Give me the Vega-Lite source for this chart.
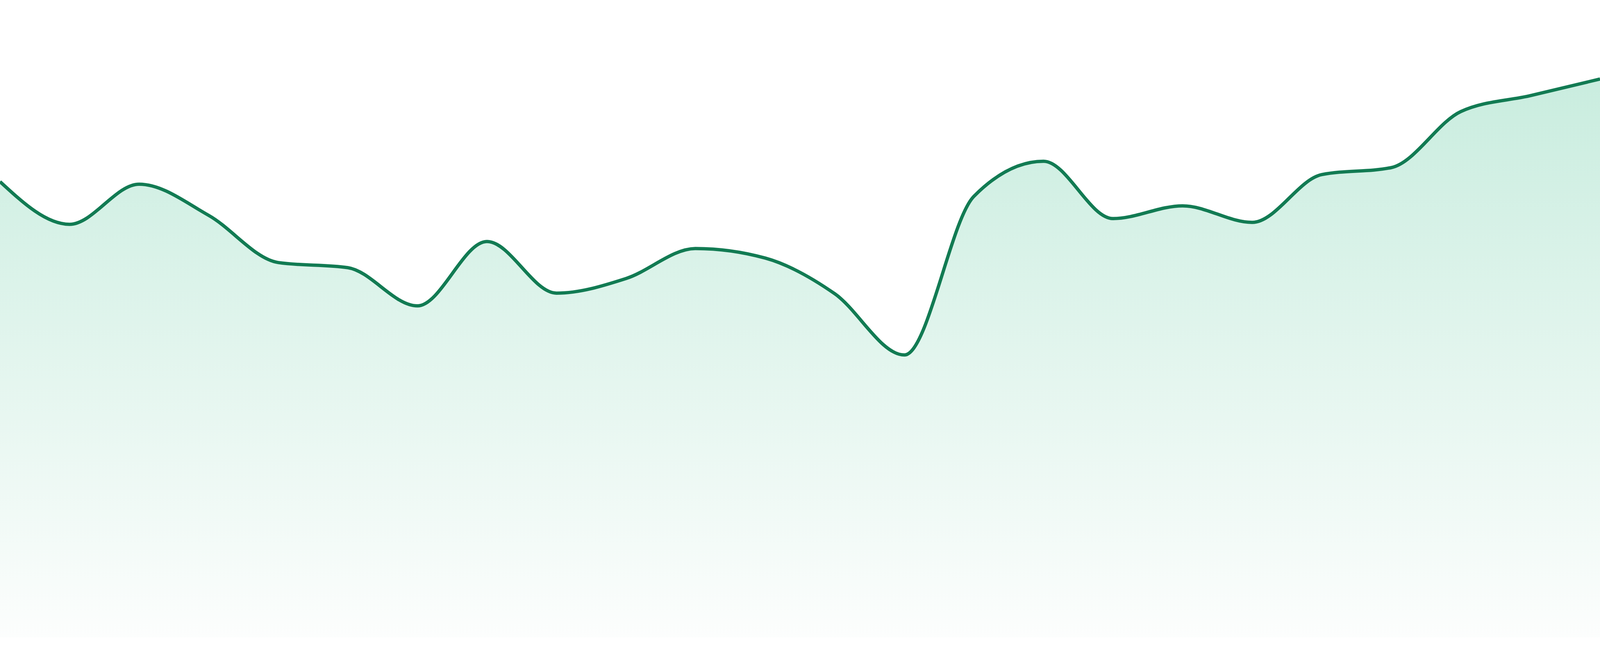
{
  "$schema": "https://vega.github.io/schema/vega-lite/v6.json",
  "width": "container",
  "height": 1680,
  "autosize": {"type": "fit", "contains": "padding"},
  "padding": 0,
  "background": "#ffffff",
  "config": {"view": {"stroke": null}},
  "data": {
    "values": [
      {"i": 0, "v": 71.5},
      {"i": 1, "v": 64.8},
      {"i": 2, "v": 71.1},
      {"i": 3, "v": 66.2},
      {"i": 4, "v": 58.8},
      {"i": 5, "v": 58.0},
      {"i": 6, "v": 52.0},
      {"i": 7, "v": 62.1},
      {"i": 8, "v": 54.0},
      {"i": 9, "v": 56.3},
      {"i": 10, "v": 61.0},
      {"i": 11, "v": 59.5},
      {"i": 12, "v": 53.9},
      {"i": 13, "v": 44.3},
      {"i": 14, "v": 69.2},
      {"i": 15, "v": 74.7},
      {"i": 16, "v": 65.7},
      {"i": 17, "v": 67.7},
      {"i": 18, "v": 65.1},
      {"i": 19, "v": 72.6},
      {"i": 20, "v": 73.7},
      {"i": 21, "v": 82.5},
      {"i": 22, "v": 85.0},
      {"i": 23, "v": 87.6}
    ]
  },
  "mark": {
    "type": "area",
    "interpolate": "monotone",
    "clip": true,
    "color": {
      "gradient": "linear",
      "x1": 0, "y1": 0, "x2": 0, "y2": 1,
      "stops": [
        {"offset": 0, "color": "#b2e5d1"},
        {"offset": 1, "color": "#fbfdfc"}
      ]
    },
    "line": {"color": "#127b53", "strokeWidth": 8.5, "clip": true}
  },
  "encoding": {
    "x": {"field": "i", "type": "quantitative", "axis": null, "scale": {"domain": [0, 23], "nice": false, "zero": false}},
    "y": {"field": "v", "type": "quantitative", "axis": null, "scale": {"domain": [-2.94, 100], "nice": false}}
  }
}
